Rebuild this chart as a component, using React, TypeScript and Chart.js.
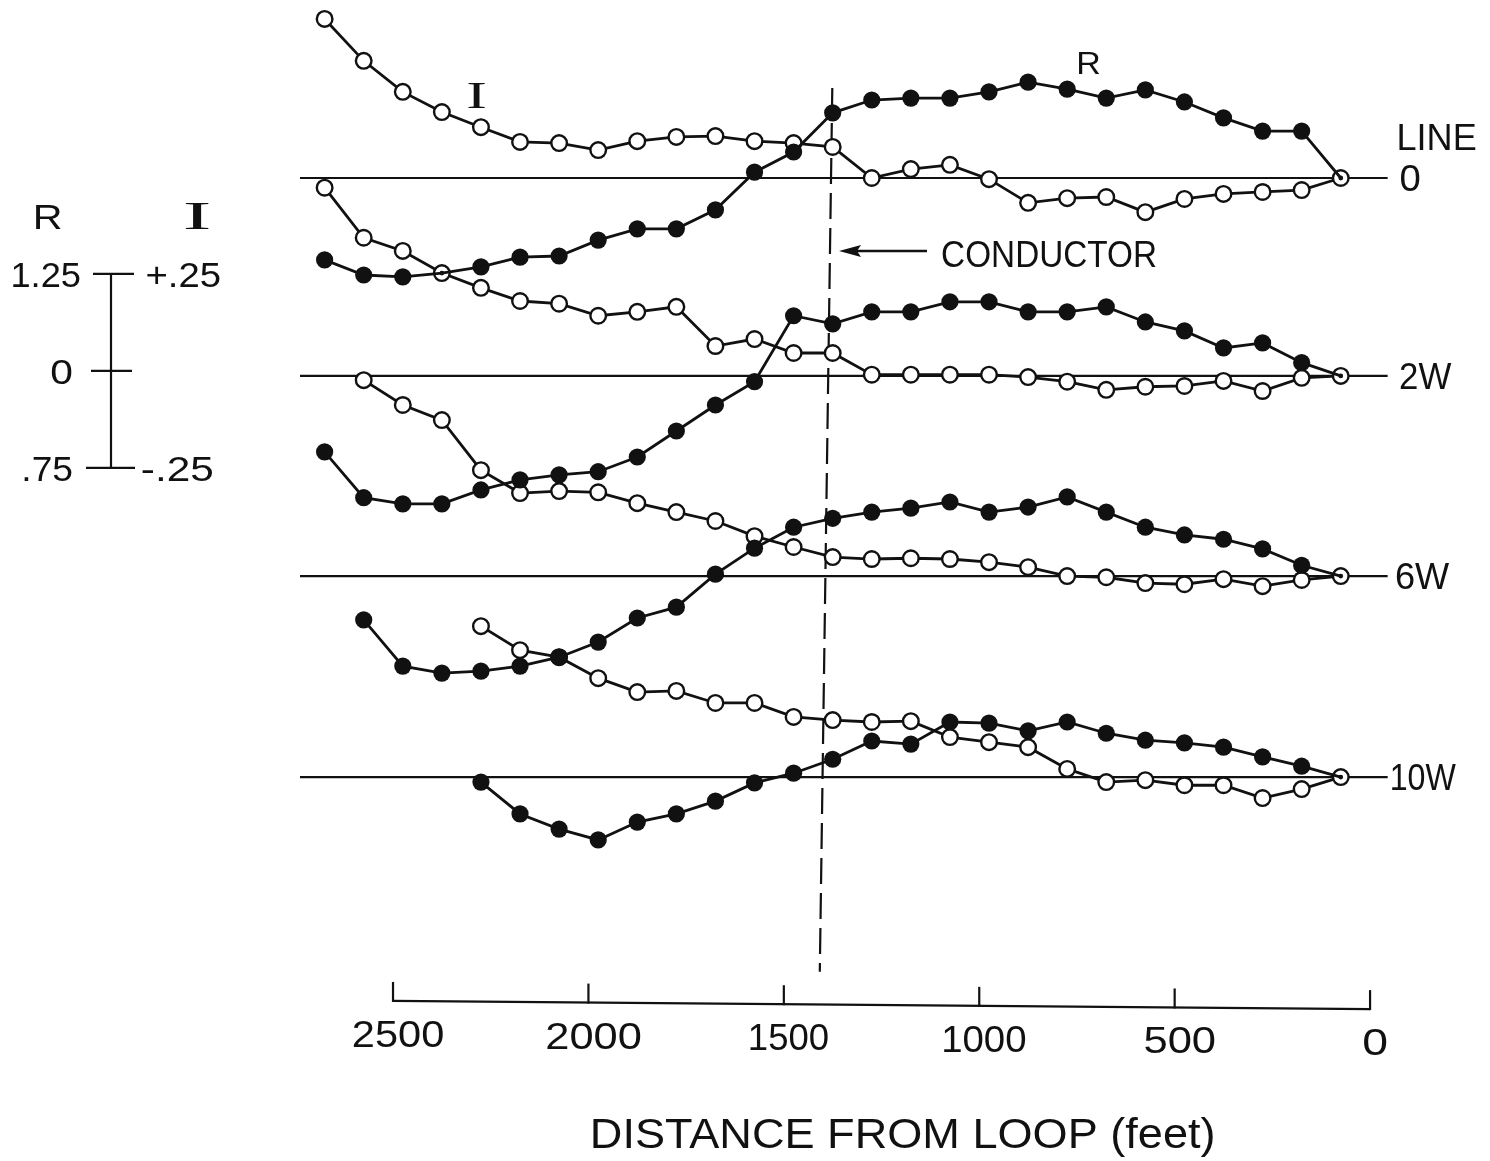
import React, { useEffect, useRef } from "react";
import { Chart, registerables } from "chart.js";

Chart.register(...registerables);

// Station distances from the loop (feet)
const distances = [2675, 2575, 2475, 2375, 2275, 2175, 2075, 1975, 1875, 1775, 1675, 1575, 1475, 1375, 1275, 1175, 1075, 975, 875, 775, 675, 575, 475, 375, 275, 175, 75];

// Survey lines and their vertical offsets on the sheet (in R/I units)
const lineNames = ["0", "2W", "6W", "10W"];
const lineOffsets = [0, -0.51, -1.026, -1.544];

// Real (R, baseline 1.0) and imaginary (I, baseline 0) components
const rLine0 = [0.789, 0.75, 0.745, 0.755, 0.771, 0.796, 0.799, 0.84, 0.869, 0.869, 0.918, 1.015, 1.067, 1.168, 1.201, 1.206, 1.206, 1.222, 1.247, 1.229, 1.206, 1.227, 1.196, 1.155, 1.121, 1.121, 1.0];
const iLine0 = [0.41, 0.302, 0.222, 0.17, 0.131, 0.093, 0.09, 0.072, 0.095, 0.106, 0.108, 0.095, 0.09, 0.08, 0.0, 0.023, 0.034, -0.003, -0.064, -0.052, -0.049, -0.088, -0.054, -0.041, -0.036, -0.031, 0.0];
const rLine2W = [0.804, 0.686, 0.67, 0.67, 0.706, 0.732, 0.745, 0.753, 0.791, 0.858, 0.925, 0.985, 1.155, 1.134, 1.165, 1.165, 1.191, 1.191, 1.165, 1.165, 1.178, 1.139, 1.116, 1.072, 1.085, 1.034, 1.0];
const iLine2W = [0.485, 0.356, 0.322, 0.265, 0.227, 0.193, 0.186, 0.155, 0.165, 0.178, 0.077, 0.095, 0.059, 0.059, 0.003, 0.003, 0.003, 0.003, -0.003, -0.015, -0.036, -0.028, -0.026, -0.013, -0.039, -0.005, 0.0];
const rLine6W = [null, 0.887, 0.768, 0.75, 0.755, 0.768, 0.791, 0.83, 0.892, 0.92, 1.005, 1.072, 1.126, 1.149, 1.165, 1.175, 1.191, 1.165, 1.178, 1.204, 1.165, 1.126, 1.106, 1.095, 1.07, 1.028, 1.0];
const iLine6W = [null, 0.505, 0.441, 0.402, 0.273, 0.214, 0.219, 0.216, 0.188, 0.165, 0.142, 0.103, 0.075, 0.049, 0.044, 0.046, 0.044, 0.036, 0.023, 0.0, -0.003, -0.018, -0.021, -0.008, -0.026, -0.01, 0.0];
const rLine10W = [null, null, null, null, 0.987, 0.905, 0.866, 0.838, 0.884, 0.905, 0.938, 0.985, 1.01, 1.046, 1.093, 1.085, 1.142, 1.139, 1.119, 1.142, 1.113, 1.095, 1.088, 1.077, 1.052, 1.028, 1.0];
const iLine10W = [null, null, null, null, 0.389, 0.327, 0.309, 0.255, 0.219, 0.222, 0.191, 0.191, 0.155, 0.147, 0.142, 0.144, 0.103, 0.09, 0.077, 0.021, -0.013, -0.008, -0.021, -0.021, -0.054, -0.031, 0.0];

const rSeries = [rLine0, rLine2W, rLine6W, rLine10W];
const iSeries = [iLine0, iLine2W, iLine6W, iLine10W];

const xTickValues = [2500, 2000, 1500, 1000, 500, 0];
const xTickLabels = ["2500", "2000", "1500", "1000", "500", "0"];
const xTitle = "DISTANCE FROM LOOP (feet)";

// Scale key (R / I)
const scaleKeyR = ["1.25", "0", ".75"];
const scaleKeyI = ["+.25", "", "-.25"];
const scaleKeyCenter = -0.497;
const scaleKeyHalf = 0.25;

// Conductor position (feet), top and bottom of dashed marker
const conductorX = [1376, 1408];
const conductorY = [0.232, -2.046];

// Extent of reference lines and the x axis line
const baselineX = [2740, -45];
const axisLevel = [-2.121, -2.142];

const INK = "#111111";
const SANS = '"Liberation Sans", Arial, sans-serif';
const SERIF = '"Liberation Serif", "DejaVu Serif", serif';

function fitText(ctx, text, cx, base, cap, width, family = SANS, capRatio = 0.716) {
  if (!text) return;
  const size = cap / capRatio;
  ctx.save();
  ctx.font = `${size}px ${family}`;
  ctx.textAlign = "left";
  ctx.textBaseline = "alphabetic";
  const m = ctx.measureText(text);
  let L = m.actualBoundingBoxLeft;
  let R = m.actualBoundingBoxRight;
  if (!(isFinite(L) && isFinite(R)) || L + R <= 0) {
    L = 0;
    R = m.width;
  }
  const inkW = L + R;
  const s = width / inkW;
  ctx.translate(cx, base);
  ctx.scale(s, 1);
  ctx.fillText(text, -(R - L) / 2, 0);
  ctx.restore();
}

const annotations = {
  id: "annotations",
  afterDraw(chart) {
    const ctx = chart.ctx;
    const xs = chart.scales.x;
    const ys = chart.scales.y;
    ctx.save();
    ctx.fillStyle = INK;
    ctx.strokeStyle = INK;

    // x axis line with upward ticks
    const x0 = xs.getPixelForValue(xTickValues[0]);
    const x1 = xs.getPixelForValue(xTickValues[xTickValues.length - 1]);
    const ay0 = ys.getPixelForValue(axisLevel[0]);
    const ay1 = ys.getPixelForValue(axisLevel[1]);
    const axisY = (px) => ay0 + ((ay1 - ay0) * (px - x0)) / (x1 - x0);
    ctx.lineWidth = 2.2;
    ctx.beginPath();
    ctx.moveTo(x0, ay0);
    ctx.lineTo(x1, ay1);
    ctx.stroke();
    const tickW = [90, 94, 78, 82, 70, 23];
    xTickValues.forEach((v, k) => {
      const px = xs.getPixelForValue(v);
      const py = axisY(px);
      ctx.beginPath();
      ctx.moveTo(px, py + 1);
      ctx.lineTo(px, py - 19);
      ctx.stroke();
      fitText(ctx, xTickLabels[k], px + 5, py + 46, 26, tickW[k]);
    });
    fitText(ctx, xTitle, 903, 1148, 31, 620);

    // scale key
    const kx = 111;
    const kTop = ys.getPixelForValue(scaleKeyCenter + scaleKeyHalf);
    const kMid = ys.getPixelForValue(scaleKeyCenter);
    const kBot = ys.getPixelForValue(scaleKeyCenter - scaleKeyHalf);
    ctx.lineWidth = 2.2;
    ctx.beginPath();
    ctx.moveTo(kx, kTop);
    ctx.lineTo(kx, kBot);
    ctx.moveTo(93, kTop);
    ctx.lineTo(134, kTop);
    ctx.moveTo(91, kMid);
    ctx.lineTo(132, kMid);
    ctx.moveTo(86, kBot);
    ctx.lineTo(135, kBot);
    ctx.stroke();
    fitText(ctx, "R", 48, 229, 25, 26);
    fitText(ctx, "I", 197, 229, 26, 24, SERIF, 0.66);
    const rW = [67, 21, 47];
    const rX = [46, 62, 48];
    const iW = [73, 0, 70];
    const iX = [183, 0, 177];
    [kTop, kMid, kBot].forEach((py, k) => {
      fitText(ctx, scaleKeyR[k], rX[k], py + 13, 25, rW[k]);
      fitText(ctx, scaleKeyI[k], iX[k], py + 13, 25, iW[k]);
    });

    // curve labels
    fitText(ctx, "I", 477, 108, 25, 18, SERIF, 0.66);
    fitText(ctx, "R", 1089, 74, 22, 21);

    // line names on the right
    fitText(ctx, "LINE", 1437, 150, 26, 77);
    const nameX = [1410, 1426, 1423, 1424];
    const nameW = [19, 52, 54, 65];
    lineNames.forEach((n, k) => {
      const py = ys.getPixelForValue(lineOffsets[k]);
      fitText(ctx, n, nameX[k], py + 13, 26, nameW[k]);
    });

    // conductor arrow and label
    const ay = 251;
    ctx.lineWidth = 2.4;
    ctx.beginPath();
    ctx.moveTo(927, ay);
    ctx.lineTo(850, ay);
    ctx.stroke();
    ctx.beginPath();
    ctx.moveTo(839, ay);
    ctx.lineTo(861, ay - 6);
    ctx.lineTo(857, ay);
    ctx.lineTo(861, ay + 6);
    ctx.closePath();
    ctx.fill();
    fitText(ctx, "CONDUCTOR", 1049, 267, 27, 214);

    ctx.restore();
  },
};

function toPoints(values, offset, base) {
  const pts = [];
  distances.forEach((d, k) => {
    const v = values[k];
    if (v !== null && v !== undefined) pts.push({ x: d, y: offset + v - base });
  });
  return pts;
}

export default function App() {
  const ref = useRef(null);

  useEffect(() => {
    const canvas = ref.current;
    if (!canvas) return;
    const datasets = [];

    lineNames.forEach((name, g) => {
      const off = lineOffsets[g];
      datasets.push({
        label: `line ${name}`,
        data: [
          { x: baselineX[0], y: off },
          { x: baselineX[1], y: off },
        ],
        borderColor: INK,
        borderWidth: 2.2,
        pointRadius: 0,
        order: 4,
      });
      datasets.push({
        label: `I ${name}`,
        data: toPoints(iSeries[g], off, 0),
        borderColor: INK,
        borderWidth: 2.8,
        pointRadius: 7.8,
        pointBorderWidth: 2.4,
        pointBackgroundColor: "#ffffff",
        pointBorderColor: INK,
        order: 2,
      });
      const rPts = toPoints(rSeries[g], off, 1);
      const last = rPts.length - 1;
      datasets.push({
        label: `R ${name}`,
        data: rPts,
        borderColor: INK,
        borderWidth: 2.8,
        pointRadius: (c) => {
          if (c.dataIndex === last) return 2.4;
          if (g === 0 && rPts[c.dataIndex] && rPts[c.dataIndex].x === 2375) return 2.4;
          return 8.6;
        },
        pointBorderWidth: 0,
        pointBackgroundColor: INK,
        pointBorderColor: INK,
        order: 1,
      });
    });

    datasets.push({
      label: "conductor",
      data: [
        { x: conductorX[0], y: conductorY[0] },
        { x: conductorX[1], y: conductorY[1] },
      ],
      borderColor: INK,
      borderWidth: 2.2,
      borderDash: [26, 9],
      pointRadius: 0,
      order: 5,
    });

    const chart = new Chart(canvas, {
      type: "line",
      data: { datasets },
      options: {
        animation: false,
        responsive: false,
        events: [],
        layout: { autoPadding: false, padding: { left: 300, right: 100, top: 5, bottom: 146 } },
        elements: { line: { tension: 0, fill: false } },
        scales: {
          x: { type: "linear", reverse: true, min: -51, max: 2738, display: false },
          y: { type: "linear", min: -2.1572, max: 0.4459, display: false },
        },
        plugins: {
          legend: { display: false },
          tooltip: { enabled: false },
          title: { display: false },
        },
      },
      plugins: [annotations],
    });
    return () => chart.destroy();
  }, []);

  return (
    <div style={{ position: "absolute", left: 0, top: 0, width: 1490, height: 1161, background: "#ffffff" }}>
      <canvas ref={ref} width={1490} height={1161} style={{ display: "block" }} />
    </div>
  );
}
